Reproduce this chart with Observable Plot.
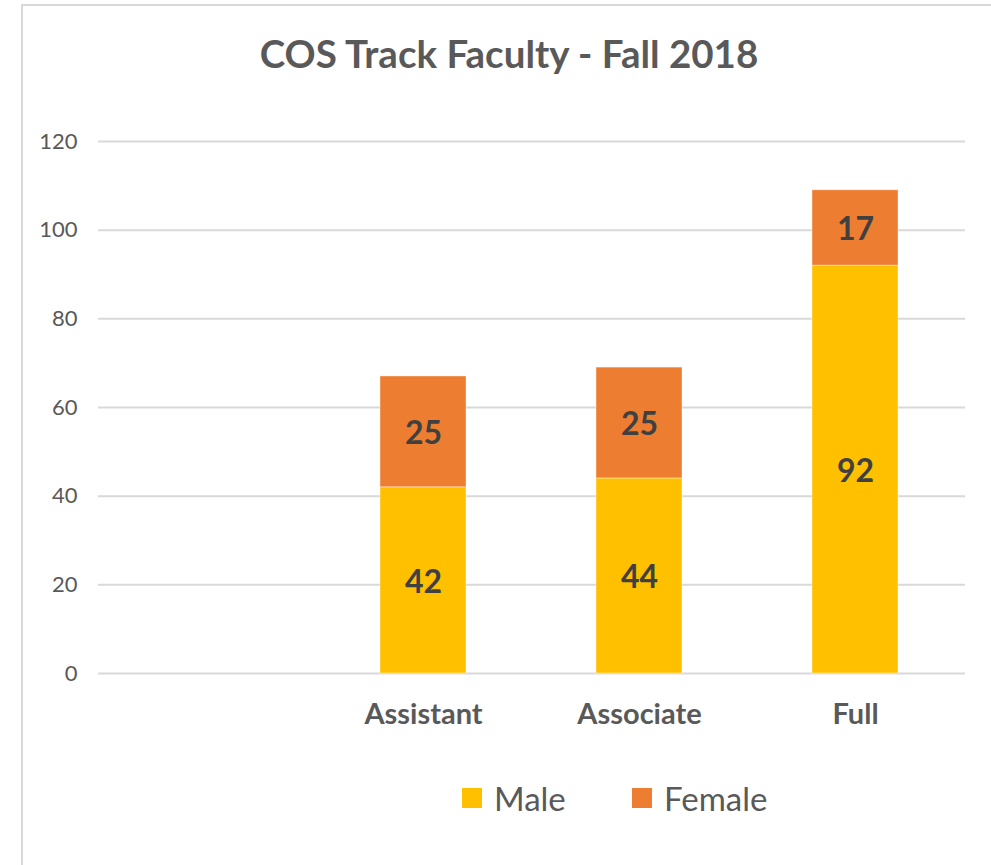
<!DOCTYPE html>
<html>
<head>
<meta charset="utf-8">
<script src="https://cdn.jsdelivr.net/npm/d3@7"></script>
<script src="https://cdn.jsdelivr.net/npm/@observablehq/plot@0.6"></script>
<style>
  html, body { margin: 0; padding: 0; background: #fff; overflow: hidden; }
  #page { position: relative; width: 991px; height: 865px; overflow: hidden; }
  #frame { position: absolute; left: 21px; top: 4px; width: 1000px; height: 900px; border: 2px solid #d9d9d9; box-sizing: border-box; }
  #title { position: absolute; left: 0; width: 1018px; top: 28px; line-height: 50px; text-align: center; font-family: Lato, "Open Sans", sans-serif; font-weight: bold; font-size: 38.5px; color: #595959; }
  #chart { position: absolute; left: 0; top: 0; }
  #legend { position: absolute; top: 780px; left: 0; width: 991px; font-family: Lato, "Open Sans", sans-serif; font-size: 33px; color: #595959; }
  .item { position: absolute; display: flex; align-items: center; height: 36px; }
  .sw { width: 20px; height: 20px; margin-right: 12px; }
</style>
</head>
<body>
<div id="page">
  <div id="frame"></div>
  <div id="chart"></div>
  <div id="title">COS Track Faculty - Fall 2018</div>
  <div id="legend"></div>
</div>
<script>
const categories = ["", "Assistant", "Associate", "Full"];
const ranks = ["Assistant", "Associate", "Full"];
const male = [42, 44, 92];
const female = [25, 25, 17];
const seriesNames = ["Male", "Female"];
const seriesColors = ["#FFC000", "#ED7D31"];
const yTicks = [0, 20, 40, 60, 80, 100, 120];

const data = [];
ranks.forEach((r, i) => {
  data.push({rank: r, series: "Male", value: male[i]});
  data.push({rank: r, series: "Female", value: female[i]});
});

const chart = Plot.plot({
  width: 991,
  height: 760,
  marginLeft: 98,
  marginRight: 26,
  marginTop: 141,
  marginBottom: 87,
  style: {background: "transparent", fontFamily: "Lato, 'Open Sans', sans-serif"},
  x: {domain: categories, paddingInner: 0.6, paddingOuter: 0.3, label: null},
  y: {domain: [0, 120], label: null},
  color: {domain: seriesNames, range: seriesColors},
  marks: [
    Plot.gridY(yTicks, {stroke: "#d9d9d9", strokeOpacity: 1, strokeWidth: 2}),
    Plot.axisY({ticks: yTicks, tickSize: 0, tickPadding: 21, fontSize: 22, fill: "#595959", label: null}),
    Plot.axisX({tickSize: 0, tickPadding: 30, fontSize: 29, fontWeight: "bold", fill: "#595959", label: null}),
    Plot.barY(data, Plot.stackY({x: "rank", y: "value", fill: "series", order: seriesNames, stroke: "#fff", strokeOpacity: 0.4, strokeWidth: 1})),
    Plot.text(data, Plot.stackY({x: "rank", y: "value", z: "series", text: d => String(d.value), order: seriesNames, fill: "#404040", fontSize: 32, fontWeight: "bold", dy: 2}))
  ]
});
document.getElementById("chart").appendChild(chart);

const legend = document.getElementById("legend");
const lx = [462, 632];
seriesNames.forEach((s, i) => {
  const it = document.createElement("div");
  it.className = "item";
  it.style.left = lx[i] + "px";
  it.innerHTML = `<div class="sw" style="background:${seriesColors[i]}"></div><span>${s}</span>`;
  legend.appendChild(it);
});
</script>
</body>
</html>
